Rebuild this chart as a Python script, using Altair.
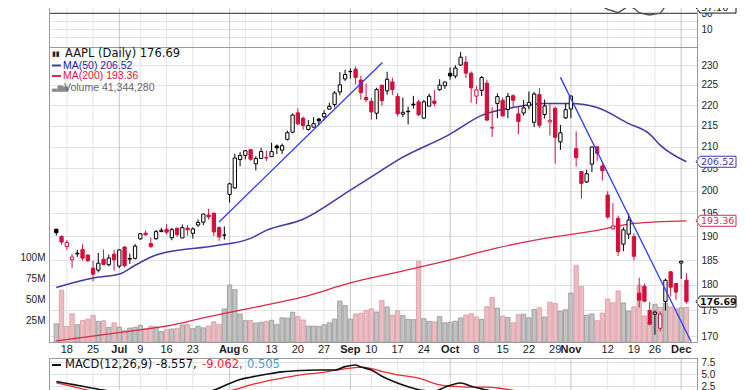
import altair as alt
import pandas as pd

# ---------------- data (AAPL daily, Jun 14 - Dec 4, 2018) ----------------
tick_idx = [0, 5, 10, 14, 19, 24, 31, 34, 39, 44, 49, 54, 58, 63, 68, 73, 78, 83, 88, 93, 96, 103, 108, 112, 117]
tick_lab = ["18", "25", "Jul", "9", "16", "23", "Aug", "6", "13", "20", "27", "Sep", "10", "17", "24",
            "Oct", "8", "15", "22", "29", "Nov", "12", "19", "26", "Dec"]
months = ["Jul", "Aug", "Sep", "Oct", "Nov", "Dec"]

opens = [191.55, 190.03,
         187.88, 185.14, 186.35, 187.25, 186.12,
         183.40, 182.99, 185.23, 184.10, 186.29,
         183.82, 187.79, 185.26, 185.42,
         189.50, 190.71, 188.50, 189.53, 191.08,
         191.52, 189.75, 191.78, 189.69, 191.78,
         190.68, 192.45, 193.06, 194.61, 194.99,
         191.90, 190.30, 199.13, 200.58, 207.03,
         208.00, 209.32, 206.05, 207.28, 207.36,
         207.70, 210.16, 209.22, 211.75, 213.44,
         218.10, 216.80, 214.10, 214.65, 216.60,
         217.15, 219.01, 220.15, 223.25, 226.51,
         228.41, 228.99, 226.23, 221.85,
         220.95, 218.01, 224.94, 223.52, 225.75,
         222.15, 217.79, 218.50, 220.24, 220.78,
         216.82, 219.75, 221.00, 223.82, 224.79,
         227.95, 227.25, 230.05, 230.78, 227.96,
         222.21, 223.64, 225.46, 214.52, 220.42,
         221.16, 218.93, 222.30, 217.86, 218.06,
         219.79, 215.83, 222.60, 217.71, 215.90,
         219.19, 211.15, 216.88, 219.05, 209.55,
         204.30, 201.92, 205.97, 209.98, 205.55,
         199.00, 191.63, 193.90, 188.39, 190.50,
         190.00, 178.37, 179.73, 174.94,
         174.24, 171.51, 176.73, 182.66, 180.29,
         184.46, 180.95]
highs = [191.57, 190.16,
         189.22, 186.33, 187.20, 188.35, 186.15,
         184.92, 186.53, 187.28, 186.21, 187.19,
         187.30, 187.95, 186.41, 188.43,
         190.68, 191.28, 189.78, 191.41, 191.84,
         192.65, 191.87, 191.80, 192.55, 192.43,
         191.96, 193.66, 194.85, 195.96, 195.19,
         192.20, 192.14, 201.76, 208.38, 208.74,
         209.25, 209.50, 207.81, 209.78, 209.10,
         210.95, 210.56, 210.74, 213.81, 217.95,
         219.18, 217.19, 216.36, 217.05, 216.90,
         218.74, 220.54, 223.49, 228.26, 228.87,
         229.18, 229.67, 227.35, 225.37,
         221.85, 224.30, 225.00, 228.35, 226.84,
         222.95, 221.85, 219.62, 222.28, 221.36,
         221.26, 222.82, 223.75, 226.44, 225.84,
         229.42, 230.00, 233.47, 232.35, 228.41,
         224.80, 227.27, 226.35, 219.50, 222.88,
         221.83, 222.99, 222.64, 219.74, 221.26,
         223.36, 223.25, 224.23, 221.38, 220.19,
         219.69, 215.18, 220.45, 222.36, 213.65,
         204.39, 204.72, 210.06, 210.12, 206.01,
         199.85, 197.18, 194.48, 191.97, 194.97,
         190.70, 181.47, 180.27, 176.60,
         174.95, 174.77, 181.29, 182.80, 180.33,
         184.94, 182.39]
lows = [190.22, 188.26,
        187.20, 183.45, 185.73, 184.94, 184.70,
        180.73, 182.54, 184.03, 183.80, 182.91,
        183.42, 183.54, 184.28, 185.20,
        189.30, 190.18, 187.61, 189.31, 190.90,
        190.42, 189.20, 189.93, 189.69, 190.17,
        189.56, 192.05, 192.43, 193.61, 190.10,
        189.07, 189.34, 197.31, 200.35, 205.48,
        207.07, 206.76, 204.52, 207.20, 206.67,
        207.70, 208.26, 208.33, 211.47, 213.16,
        215.11, 214.03, 213.84, 214.60, 215.11,
        216.33, 218.92, 219.41, 222.40, 226.00,
        226.63, 225.10, 221.30, 220.71,
        216.47, 216.56, 219.84, 222.57, 222.52,
        217.27, 217.12, 215.30, 219.15, 217.29,
        216.63, 219.70, 219.76, 223.54, 224.02,
        226.35, 226.63, 229.78, 226.73, 220.58,
        220.20, 222.25, 216.05, 212.32, 216.84,
        217.27, 216.76, 219.34, 213.00, 217.43,
        218.94, 214.70, 214.54, 216.75, 212.67,
        206.09, 209.27, 216.62, 216.81, 205.43,
        198.17, 201.69, 204.13, 206.75, 202.25,
        193.79, 191.45, 185.93, 186.90, 189.46,
        184.99, 175.51, 176.55, 172.10,
        170.26, 170.88, 174.93, 177.70, 177.03,
        181.21, 176.27]
closes = [190.80, 188.84,
          188.74, 185.69, 186.50, 185.46, 184.92,
          182.17, 184.43, 184.16, 185.50, 185.11,
          187.18, 183.92, 185.40, 187.97,
          190.58, 190.35, 187.88, 191.03, 191.33,
          190.91, 191.45, 190.40, 191.88, 191.44,
          191.61, 193.00, 194.82, 194.21, 190.98,
          189.91, 190.29, 201.50, 207.39, 207.99,
          209.07, 207.11, 207.25, 208.88, 207.53,
          208.87, 209.75, 210.24, 213.32, 217.58,
          215.46, 215.04, 215.05, 215.49, 216.16,
          217.94, 219.70, 222.98, 225.03, 227.63,
          228.36, 226.87, 223.10, 221.30,
          218.33, 223.85, 221.07, 226.41, 223.84,
          217.88, 218.24, 218.37, 220.03, 217.66,
          220.79, 222.19, 220.42, 224.95, 225.74,
          227.26, 229.28, 232.07, 227.99, 224.29,
          223.77, 226.87, 216.36, 214.45, 222.11,
          217.36, 222.15, 221.19, 216.02, 219.31,
          220.65, 222.73, 215.09, 219.80, 216.30,
          212.24, 213.30, 218.86, 222.22, 207.48,
          201.59, 203.77, 209.95, 208.49, 204.47,
          194.17, 192.23, 186.80, 191.41, 193.53,
          185.86, 176.98, 176.78, 172.29,
          174.62, 174.24, 180.94, 179.55, 178.58,
          184.82, 176.69]
volume_m = [21.6, 61.7,
            18.5, 33.6, 20.6, 25.7, 27.2,
            31.7, 24.6, 25.3, 17.4, 22.7,
            17.7, 13.9, 16.6, 17.5,
            19.8, 15.9, 18.8, 18.0, 12.5,
            15.0, 15.5, 16.4, 20.3, 20.7,
            15.9, 18.7, 16.8, 19.1, 24.0,
            21.0, 39.4, 67.9, 62.4, 33.4,
            25.4, 25.6, 22.5, 23.5, 24.6,
            25.9, 20.7, 28.8, 28.5, 35.4,
            30.3, 26.2, 19.0, 18.9, 18.5,
            20.5, 22.8, 27.3, 48.8, 43.3,
            27.4, 33.3, 34.3, 37.6,
            39.5, 35.7, 49.3, 41.7, 31.9,
            37.2, 31.6, 27.1, 26.6, 96.2,
            27.7, 24.6, 24.0, 30.2, 22.9,
            23.6, 24.8, 28.7, 32.0, 33.6,
            29.7, 26.9, 42.0, 53.1, 40.3,
            30.8, 29.2, 22.9, 32.6, 33.1,
            28.8, 38.8, 40.9, 29.9, 47.3,
            45.9, 36.7, 38.4, 58.3, 91.3,
            66.2, 31.9, 33.4, 25.4, 34.4,
            51.1, 46.9, 60.8, 46.5, 36.9,
            41.9, 67.8, 31.1, 23.6,
            44.9, 41.4, 46.1, 41.8, 39.5,
            40.8, 41.344]
prev_close_first = 190.70

rsi_vals = [57, 52, 51, 46, 44.5, 43, 42.5, 38.5, 42.5, 44.5, 47, 46,
            52, 45, 48, 52, 58, 57, 52, 58, 59, 58,
            59, 57, 59, 58, 58, 61, 64, 62, 53, 51,
            52, 70, 78, 78, 79, 74, 74, 75, 72, 74,
            75, 75, 78, 82, 76, 75, 75, 75, 76, 78,
            80, 83, 85, 86, 86, 80, 71, 67, 60, 66,
            61, 67, 61, 52, 53, 53, 56, 51, 56, 58,
            55, 61, 62, 64, 67, 70, 59, 52, 51, 57,
            42, 41, 51, 45, 51, 50, 44, 49, 51, 54,
            44.5, 50, 42.5, 42, 44, 52, 56, 46.6, 40.4, 39,
            44.5, 42.5, 38.3, 35, 32.9, 30.75, 35, 39.1, 36.25, 30.75,
            29.1, 27.9, 29.1, 30, 39.1, 38.25, 37.5, 44.5, 37.16]

ma50_idx = [-2, 5, 10, 13, 17, 20, 28, 35, 38, 45, 54, 60, 63, 73, 79, 85, 91, 96, 101, 107, 111, 113, 118]
ma50_val = [179.5, 181.4, 182.2, 184.0, 186.1, 186.9, 188.0, 189.6, 191.3, 193.7, 200.1, 204.6, 206.9,
            213.0, 217.5, 219.4, 220.4, 220.4, 219.4, 215.5, 213.0, 210.4, 206.52]
ma200_idx = [-2, 11, 20, 26, 35, 45, 54, 63, 73, 82, 91, 101, 108, 118]
ma200_val = [169.1, 170.8, 172.1, 173.5, 175.4, 177.6, 180.4, 182.6, 185.1, 187.6, 189.6, 191.3, 192.8, 193.36]

trend_idx = [29, 60.1, 94, 118.9]
trend_val = [193.1, 230.7, 226.9, 168.95]
trend_grp = ["a", "a", "b", "b"]

macd_idx = [-2, 1, 4, 7, 10, 16, 22, 27, 31, 33, 35, 38, 41, 45, 48, 51, 53, 55, 56, 58, 60, 62, 65,
            68, 70, 72, 75, 77, 80, 83, 88, 93, 98, 105, 112, 118]
macd_val = [3.5, 2.9, 2.3, 1.7, 1.2, 0.9, 1.0, 1.4, 3.1, 3.9, 4.4, 5.0, 5.5, 5.8, 5.9, 5.9, 6.6, 6.95,
            6.5, 5.9, 4.6, 3.6, 2.4, 1.6, 1.5, 2.3, 3.2, 2.5, 1.7, 1.0, 0.0, -1.5, -3.0, -6.0, -9.0, -8.557]
signal_idx = [-2, 1, 4, 8, 15, 25, 30, 32, 35, 38, 41, 44, 48, 51, 54, 56, 58, 60, 63, 67, 71, 74, 76,
              80, 82, 86, 92, 100, 108, 118]
signal_val = [3.2, 2.5, 1.7, 1.2, 0.9, 0.9, 1.4, 1.8, 2.8, 3.6, 4.2, 4.8, 5.3, 5.8, 6.3, 6.5, 6.2, 5.6,
              4.9, 4.2, 2.8, 2.5, 2.35, 2.35, 2.15, 1.5, 0.5, -2.0, -6.0, -9.062]

price_box_val = [206.52, 193.36]
price_box_txt = ["206.52", "193.36"]
last_close = 176.69
rsi_last = 37.16

# ---------------- frames ----------------
n = len(closes)
assert len(opens) == n and len(highs) == n and len(lows) == n and len(volume_m) == n and len(rsi_vals) == n
idx = list(range(-2, n - 2))
RED = "#d2103c"
prev = [prev_close_first] + closes[:-1]
cols = ["#000000" if c >= p else RED for c, p in zip(closes, prev)]
df = pd.DataFrame({"idx": idx, "o": opens, "h": highs, "l": lows, "c": closes, "vol": volume_m, "col": cols})
df["fill"] = ["#ffffff" if c > o else col for c, o, col in zip(closes, opens, cols)]
df["vfill"] = ["#c2c2c2" if col == "#000000" else "#ecbcc2" for col in cols]
df["vstroke"] = ["#959595" if col == "#000000" else "#d59aa2" for col in cols]

ticks = pd.DataFrame({"idx": tick_idx, "lab": tick_lab})
ticks["month"] = ticks["lab"].isin(months)
ticks["gc"] = ["#c6c6c6" if m else "#e4e4e4" for m in ticks["month"]]

W, H = 649, 382
X_DOMAIN = [-2.4375, 119.25]
xs = alt.Scale(domain=X_DOMAIN, nice=False, zero=False)
X = alt.X("idx:Q", scale=xs, axis=None)

AXF = "Liberation Sans"
price_scale = alt.Scale(type="log", domain=[168.90, 234.73], range=[334, 39], nice=False)
price_axis = alt.Axis(orient="right", values=list(range(170, 235, 5)), format="d", grid=True,
                      gridColor="#e2e2e2", ticks=False, domain=False, labelPadding=3, labelFont=AXF,
                      labelFontSize=10, labelColor="#222222", labelOverlap=False, title=None)


def PY(f):
    return alt.Y(f + ":Q", scale=price_scale, axis=price_axis)


vol_scale = alt.Scale(domain=[0, 351.19], range=[334, 39], nice=False, zero=True)
vol_axis = alt.Axis(orient="left", values=[25, 50, 75, 100], labelExpr="datum.value + 'M'", grid=False,
                    ticks=False, domain=False, labelPadding=4, labelFont=AXF, labelFontSize=10,
                    labelColor="#222222", title=None)
rsi_scale = alt.Scale(domain=[-12.125, 36.625], range=[39, 0], nice=False, zero=False)
rsi_axis = alt.Axis(orient="right", values=[0, 10, 20, 30],
                    labelExpr="(datum.value == 10 || datum.value == 30) ? datum.label : ''",
                    grid=True, gridColor="#e2e2e2", ticks=False, domain=False, labelPadding=3,
                    labelFont=AXF, labelFontSize=10, labelColor="#222222", labelOverlap=False, title=None)
macd_scale = alt.Scale(domain=[1.73, 8.4], range=[382, 350], nice=False, zero=False)
macd_axis = alt.Axis(orient="right", values=[2.5, 5.0, 7.5], format=".1f", grid=True, gridColor="#e2e2e2",
                     ticks=False, domain=False, labelPadding=3, labelFont=AXF, labelFontSize=10,
                     labelColor="#222222", labelOverlap=False, title=None)

BOX = "M0,0L4,-5.5L40,-5.5L40,5.5L4,5.5Z"

# ---------------- vertical grid ----------------
vgrid_top = alt.Chart(ticks).mark_rule(strokeWidth=1).encode(
    x=X, y=alt.value(0), y2=alt.value(334), color=alt.Color("gc:N", scale=None))
vgrid_macd = alt.Chart(ticks).mark_rule(strokeWidth=1).encode(
    x=X, y=alt.value(350), y2=alt.value(382), color=alt.Color("gc:N", scale=None))

# ---------------- volume ----------------
vol_layer = alt.Chart(df).mark_bar(size=4.4, strokeWidth=0.8).encode(
    x=X, y=alt.Y("vol:Q", scale=vol_scale, axis=vol_axis),
    fill=alt.Fill("vfill:N", scale=None), stroke=alt.Stroke("vstroke:N", scale=None))

# ---------------- price ----------------
ma50_df = pd.DataFrame({"idx": ma50_idx, "v": ma50_val})
ma200_df = pd.DataFrame({"idx": ma200_idx, "v": ma200_val})
trend_df = pd.DataFrame({"idx": trend_idx, "v": trend_val, "g": trend_grp})
pbox_df = pd.DataFrame({"v": price_box_val, "t": price_box_txt, "sc": ["#3b3ba8", "#d8285a"]})
last_df = pd.DataFrame({"v": [last_close], "t": [f"{last_close:.2f}"]})

ma200 = alt.Chart(ma200_df).mark_line(color="#dc2848", strokeWidth=1.3, interpolate="monotone").encode(
    x=X, y=PY("v"))
ma50 = alt.Chart(ma50_df).mark_line(color="#3b3ba8", strokeWidth=1.5, interpolate="monotone").encode(
    x=X, y=PY("v"))
wicks = alt.Chart(df).mark_rule(strokeWidth=1).encode(
    x=X, y=PY("l"), y2="h:Q", color=alt.Color("col:N", scale=None))
bodies = alt.Chart(df).mark_bar(size=3.3, strokeWidth=1).encode(
    x=X, y=PY("o"), y2="c:Q", fill=alt.Fill("fill:N", scale=None), stroke=alt.Stroke("col:N", scale=None))
trend = alt.Chart(trend_df).mark_line(color="#2f3cf2", strokeWidth=1.3).encode(
    x=X, y=PY("v"), detail="g:N")
boxes = alt.Chart(pbox_df).mark_point(shape=BOX, size=4, filled=True, fill="white", strokeWidth=1,
                                      opacity=1).encode(
    x=alt.value(647), y=PY("v"), stroke=alt.Stroke("sc:N", scale=None))
box_txt = alt.Chart(pbox_df).mark_text(align="left", baseline="middle", font="DejaVu Sans",
                                       fontSize=9.5).encode(
    x=alt.value(652), y=PY("v"), text="t:N", color=alt.Color("sc:N", scale=None))
last_box = alt.Chart(last_df).mark_point(shape=BOX, size=4, filled=True, fill="white", stroke="#111111",
                                         strokeWidth=1, opacity=1).encode(x=alt.value(647), y=PY("v"))
last_txt = alt.Chart(last_df).mark_text(align="left", baseline="middle", font="DejaVu Sans", fontSize=9.5,
                                        fontWeight="bold", color="#111111").encode(
    x=alt.value(651), y=PY("v"), text="t:N")
price_layer = alt.layer(ma200, ma50, wicks, bodies, trend, boxes, box_txt, last_box, last_txt)

# ---------------- RSI ----------------
rsi_df = pd.DataFrame({"idx": idx, "v": rsi_vals})
rsi_line = alt.Chart(rsi_df).mark_line(color="#555555", strokeWidth=1.4, clip=True).encode(
    x=X, y=alt.Y("v:Q", scale=rsi_scale, axis=rsi_axis))
rsi30 = alt.Chart(pd.DataFrame({"v": [30]})).mark_rule(color="#555555", strokeWidth=1.2).encode(
    y=alt.Y("v:Q", scale=rsi_scale, axis=rsi_axis))
rsi_box_df = pd.DataFrame({"v": [rsi_last], "t": [f"{rsi_last:.2f}"]})
rsi_box = alt.Chart(rsi_box_df).mark_point(shape=BOX, size=4, filled=True, fill="white", stroke="#111111",
                                           strokeWidth=1, opacity=1).encode(
    x=alt.value(647), y=alt.Y("v:Q", scale=rsi_scale, axis=rsi_axis))
rsi_txt = alt.Chart(rsi_box_df).mark_text(align="left", baseline="middle", font="DejaVu Sans", fontSize=9.5,
                                          color="#111111").encode(
    x=alt.value(652), y=alt.Y("v:Q", scale=rsi_scale, axis=rsi_axis), text="t:N")
rsi_layer = alt.layer(rsi30, rsi_line, rsi_box, rsi_txt)

# ---------------- MACD ----------------
macd_df = pd.DataFrame({"idx": macd_idx, "v": macd_val})
sig_df = pd.DataFrame({"idx": signal_idx, "v": signal_val})
sig_line = alt.Chart(sig_df).mark_line(color="#ee2a2a", strokeWidth=1.3, clip=True,
                                       interpolate="monotone").encode(
    x=X, y=alt.Y("v:Q", scale=macd_scale, axis=macd_axis))
macd_line = alt.Chart(macd_df).mark_line(color="#111111", strokeWidth=1.6, clip=True,
                                         interpolate="monotone").encode(
    x=X, y=alt.Y("v:Q", scale=macd_scale, axis=macd_axis))
macd_layer = alt.layer(sig_line, macd_line)


# ---------------- frame, legends, x labels ----------------
def vrule(x1, x2, y1, y2, color, w):
    d = pd.DataFrame({"k": [0]})
    return alt.Chart(d).mark_rule(color=color, strokeWidth=w).encode(
        x=alt.value(x1), x2=alt.value(x2), y=alt.value(y1), y2=alt.value(y2))


def vtext(s, x, y, color, size, font="DejaVu Sans", weight="normal"):
    d = pd.DataFrame({"t": [s]})
    return alt.Chart(d).mark_text(align="left", baseline="middle", font=font, fontSize=size,
                                  fontWeight=weight, color=color).encode(
        text="t:N", x=alt.value(x), y=alt.value(y))


BC = "#9a9a9a"
frame = [
    vrule(0, 649, 39.5, 39.5, BC, 1),
    vrule(0, 649, 334.5, 334.5, BC, 1),
    vrule(0, 649, 350.5, 350.5, BC, 1),
    vrule(0.5, 0.5, 0, 334.5, BC, 1),
    vrule(648.5, 648.5, 0, 334.5, BC, 1),
    vrule(0.5, 0.5, 350.5, 382, BC, 1),
    vrule(648.5, 648.5, 350.5, 382, BC, 1),
]

xlab_norm = alt.Chart(ticks[~ticks["month"]]).mark_text(
    baseline="middle", align="center", font=AXF, fontSize=11, color="#1a1a1a").encode(
    x=X, y=alt.value(342), text="lab:N")
xlab_bold = alt.Chart(ticks[ticks["month"]]).mark_text(
    baseline="middle", align="center", font=AXF, fontSize=11, fontWeight="bold", color="#1a1a1a").encode(
    x=X, y=alt.value(342), text="lab:N")

legend = [
    vtext("\u25ae\u25ae", 3, 46, "#222222", 7),
    vtext("AAPL (Daily) 176.69", 16, 46, "#111111", 11.5),
    vrule(3, 12, 57.5, 57.5, "#3b3ba8", 2),
    vtext("MA(50) 206.52", 14, 57.5, "#23239a", 10.5, font=AXF),
    vrule(3, 12, 68, 68, "#dc2848", 2),
    vtext("MA(200) 193.36", 14, 68, "#dc1440", 10.5, font=AXF),
    vtext("\u2583\u2586\u2585", 3, 79.5, "#8a8a8a", 7),
    vtext("Volume 41,344,280", 15, 79.5, "#666666", 10.5, font=AXF),
    vrule(3, 12, 357, 357, "#111111", 2),
    vtext("MACD(12,26,9) -8.557,", 16, 357, "#111111", 11.5),
    vtext("-9.062,", 153, 357, "#ee2a2a", 11.5),
    vtext("0.505", 198, 357, "#3a9fd0", 11.5),
]

chart = alt.layer(
    vgrid_top, vgrid_macd, vol_layer, price_layer, rsi_layer, macd_layer,
    *frame, xlab_norm, xlab_bold, *legend
).resolve_scale(y="independent").properties(
    width=W, height=H,
    autosize=alt.AutoSizeParams(type="none"),
    padding={"left": 41, "top": 0, "right": 39, "bottom": 0},
).configure_view(stroke=None)

chart.save("out.html", embed_options={"renderer": "svg", "actions": False})
